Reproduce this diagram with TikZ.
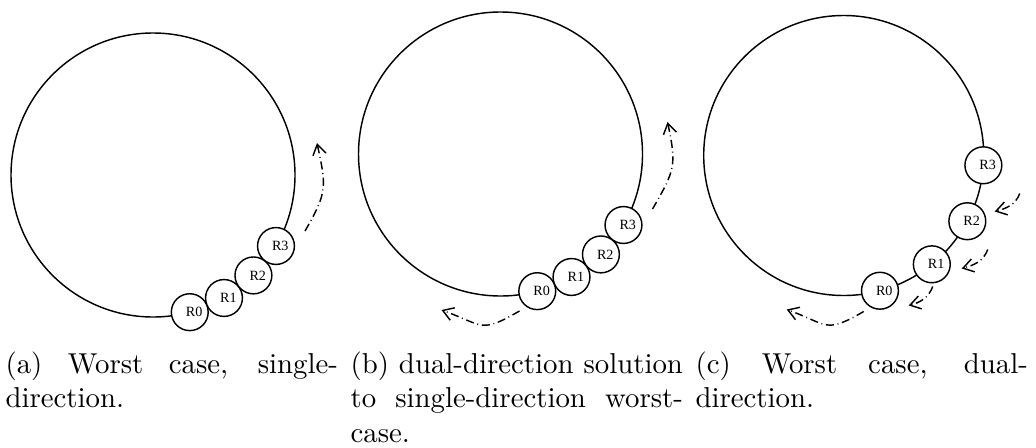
\documentclass[tikz,border=0pt]{standalone}
\usepackage{fontspec}
\newfontfamily\figfont{Liberation Serif}
\usetikzlibrary{arrows.meta}

\begin{document}
\begin{tikzpicture}[
    x=0.3472pt, y=0.3472pt,
    ring/.style={line width=0.5pt},
    rep/.style={circle, draw, fill=white, line width=0.5pt, minimum size=12.8pt, inner sep=0pt, font=\figfont\fontsize{4.9}{6}\selectfont, execute at begin node=\hspace*{3pt}},
    flow/.style={line width=0.5pt, dash pattern=on 2.8pt off 1.3pt on 0.3pt off 1.3pt, -{Straight Barb[length=3.6pt,width=4.6pt]}},
    subcap/.style={anchor=base west, inner sep=0pt, text width=115.4pt, align=justify}
]
\useasboundingbox (0,0) rectangle (1036,447);

% (a) worst case, single direction
\begin{scope}[shift={(153,272)}]
\coordinate (ca) at (0,0);
\draw[ring] (ca) circle[radius=142];
\node[rep] (a0) at (-75:142) {R0};
\node[rep] (a1) at (-60:142) {R1};
\node[rep] (a2) at (-45:142) {R2};
\node[rep] (a3) at (-30:142) {R3};
\coordinate (aup0) at (152,-56);
\coordinate (aup1) at (164,32);
\draw[flow] (aup0) to[out=60, in=-78, looseness=1.3] (aup1);
\end{scope}

% (b) dual direction
\begin{scope}[shift={(500.5,293)}]
\coordinate (cb) at (0,0);
\draw[ring] (cb) circle[radius=142];
\node[rep] (b0) at (-75:142) {R0};
\node[rep] (b1) at (-60:142) {R1};
\node[rep] (b2) at (-45:142) {R2};
\node[rep] (b3) at (-30:142) {R3};
\coordinate (bup0) at (152,-55);
\coordinate (bup1) at (167,32);
\coordinate (bdn0) at (19,-157);
\coordinate (bdn1) at (-59,-156);
\draw[flow] (bup0) to[out=60, in=-78, looseness=1.3] (bup1);
\draw[flow] (bdn0) to[out=-150, in=-20, looseness=1.5] (bdn1);
\end{scope}

% (c) worst case, dual direction
\begin{scope}[shift={(843.7,291.5)}]
\coordinate (cc) at (0,0);
\draw[ring] (cc) circle[radius=140];
\node[rep] (c0) at (-75:140) {R0};
\node[rep] (c1) at (-51:140) {R1};
\node[rep] (c2) at (-28:140) {R2};
\node[rep] (c3) at (-4:140) {R3};
\coordinate (cs1) at (176,-38);
\coordinate (ct1) at (151,-56);
\coordinate (cs2) at (144,-94);
\coordinate (ct2) at (118,-113);
\coordinate (cs3) at (89,-131);
\coordinate (ct3) at (65,-150);
\coordinate (cdn0) at (20,-156);
\coordinate (cdn1) at (-57,-154);
\draw[flow] (cs1) to[out=-110, in=15] (ct1);
\draw[flow] (cs2) to[out=-110, in=15] (ct2);
\draw[flow] (cs3) to[out=-110, in=15] (ct3);
\draw[flow] (cdn0) to[out=-150, in=-20, looseness=1.5] (cdn1);
\end{scope}

\node[subcap] (capa) at (5,74) {(a) Worst case, single-direction.};
\node[subcap] (capb) at (350,74) {(b) dual-direction solution to single-direction worst-case.};
\node[subcap] (capc) at (695,74) {(c) Worst case, dual-direction.};

\end{tikzpicture}
\end{document}
